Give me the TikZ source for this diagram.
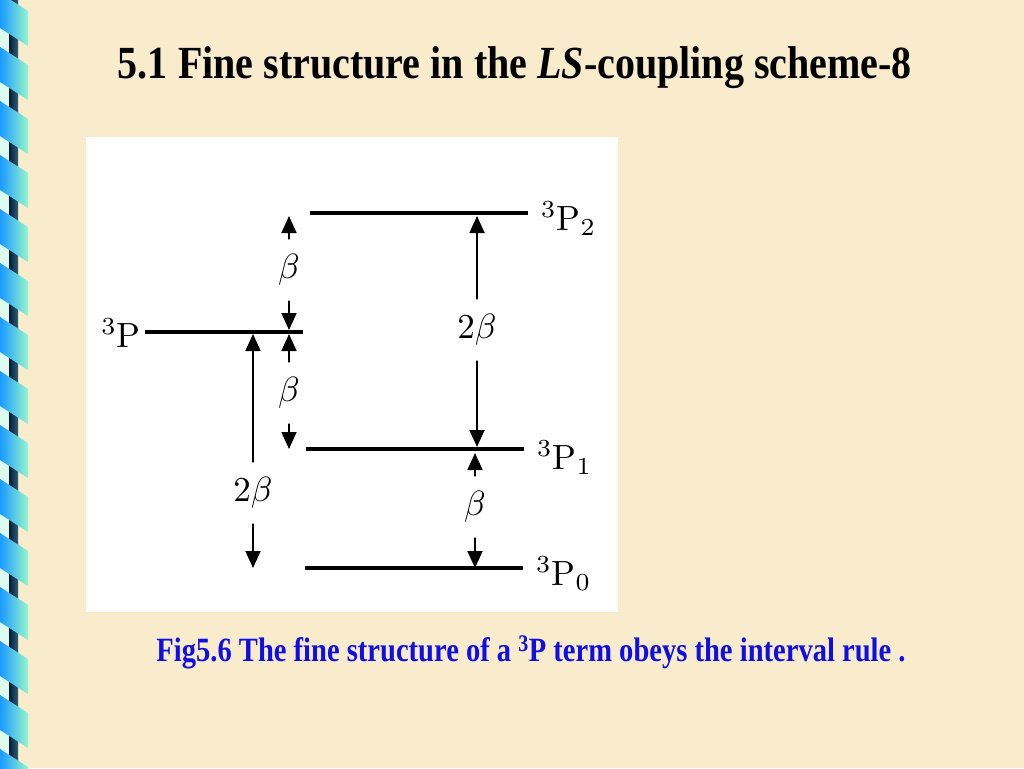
\documentclass[tikz,border=0pt]{standalone}
\usepackage{fontspec}
\newfontfamily\slidefont{Liberation Serif}
\usetikzlibrary{arrows.meta}

\definecolor{slidebg}{RGB}{249,236,204}
\definecolor{ribbonblue}{RGB}{25,155,255}
\definecolor{ribbonaqua}{RGB}{150,245,205}
\definecolor{barnavy}{RGB}{8,28,58}
\definecolor{barteal}{RGB}{45,95,115}
\definecolor{barmint}{RGB}{220,250,238}
\definecolor{capblue}{RGB}{15,15,225}

\tikzset{
  level/.style={line width=3.5pt},
  split/.style={-{Triangle[length=17pt,width=15pt]}, line width=1.8pt},
  lbl/.style={scale=3.5, transform shape, inner sep=4.1pt},
  term/.style={scale=3.5, transform shape, inner sep=1pt}
}

\begin{document}
\begin{tikzpicture}[x=1pt,y=-1pt]
\useasboundingbox (0,0) rectangle (1024,768);
% slide
\fill[slidebg] (0,0) rectangle (1024,768);
\fill[barmint] (0,0) rectangle (9,768);
\shade[left color=barnavy, right color=barteal] (9,0) rectangle (18,768);
\foreach \k in {0,...,15} {\shade[left color=ribbonblue, right color=ribbonaqua] (0,{\k*54-7}) -- (28,{\k*54+11}) -- (28,{\k*54+46}) -- (0,{\k*54+28}) -- cycle;}
\node[anchor=base, xscale=0.87, transform shape, inner sep=0pt] (title) at (515,78)
  {\slidefont\bfseries\fontsize{46}{50}\selectfont 5.1 Fine structure in the \textit{LS}-coupling scheme-8};
\fill[white] (86,137) rectangle (618,612);

% levels
\coordinate (P-l) at (145,332);  \coordinate (P-r) at (303,332);
\coordinate (P2-l) at (310,213); \coordinate (P2-r) at (528,213);
\coordinate (P1-l) at (306,449); \coordinate (P1-r) at (524,449);
\coordinate (P0-l) at (305,568); \coordinate (P0-r) at (523,568);
\foreach \a in {P,P2,P1,P0} {\draw[level] (\a-l) -- (\a-r);}
\node[term, anchor=base east] (tP) at ([yshift=-15pt]P-l) {$^3\mathrm{P}$};
\node[term, anchor=base west] (tP2) at ([xshift=9pt,yshift=-17pt]P2-r) {$^3\mathrm{P}_2$};
\node[term, anchor=base west] (tP1) at ([xshift=9pt,yshift=-20pt]P1-r) {$^3\mathrm{P}_1$};
\node[term, anchor=base west] (tP0) at ([xshift=9pt,yshift=-17pt]P0-r) {$^3\mathrm{P}_0$};

% intervals
\node[lbl] (b1) at (289,270) {$\beta$};
\node[lbl] (b2) at (289,393) {$\beta$};
\node[lbl] (b3) at (253,493) {$2\beta$};
\node[lbl] (b4) at (477,330) {$2\beta$};
\node[lbl] (b5) at (475,507) {$\beta$};
\draw[split] (b1) -- ([yshift=-3pt]b1 |- P2-l);
\draw[split] (b1) -- ([yshift=2pt]b1 |- P-l);
\draw[split] (b2) -- ([yshift=-2pt]b2 |- P-l);
\draw[split] (b2) -- (b2 |- P1-l);
\draw[split] (b3) -- ([yshift=-2pt]b3 |- P-l);
\draw[split] (b3) -- (b3 |- P0-l);
\draw[split] (b4) -- ([yshift=-3pt]b4 |- P2-l);
\draw[split] (b4) -- ([yshift=2pt]b4 |- P1-l);
\draw[split] (b5) -- ([yshift=-4pt]b5 |- P1-l);
\draw[split] (b5) -- (b5 |- P0-l);

% caption
\node[anchor=base, xscale=0.84, transform shape, inner sep=0pt, text=capblue] (caption) at (531,661)
  {\slidefont\bfseries\fontsize{34}{40}\selectfont Fig5.6 The fine structure of a \textsuperscript{3}P term obeys the interval rule .};
\end{tikzpicture}
\end{document}
